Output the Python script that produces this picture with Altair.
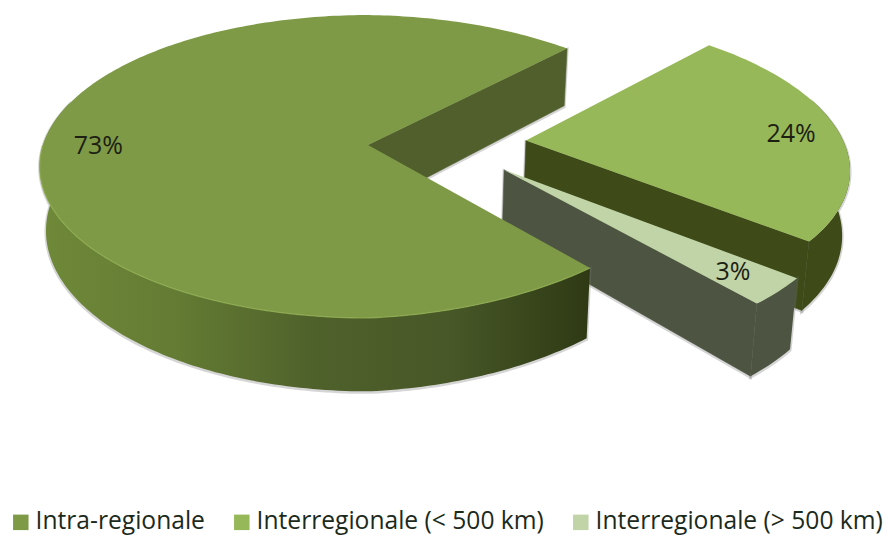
import math
import altair as alt

# Pie content
names = ["Intra-regionale", "Interregionale (< 500 km)", "Interregionale (> 500 km)"]
shares = [73, 24, 3]
labels = ["73%", "24%", "3%"]

# Colours of each slice
top_colors = ["#7f9a47", "#97b858", "#c1d4a7"]
cut_colors = ["#505f2c", "#3e4b19", "#4d5542"]
rim_stops = [
    [("#6f8939", 0), ("#637b33", 0.25), ("#4f612b", 0.5), ("#475727", 0.75), ("#36431a", 0.92), ("#2f3a14", 1)],
    [("#3e4b19", 0), ("#3e4b19", 1)],
    [("#4d5542", 0), ("#4d5542", 1)],
]

# Exploded offset, radius, rim flattening and label placement of each slice on the unit disc
offsets = [(0.0, 0.0), (0.488, -0.030), (0.409, 0.164)]
radii = [1.0, 0.98, 0.99]
flatten = [0.04, 0.0, 0.0]
label_radius = [0.83, 0.83, 0.84]
label_turn = [-1.9, 0.0, 0.0]

# Perspective camera for the disc
X0, Y0, A, B, K = 368.0, 145.0, 325.0, 148.4, 0.142
DEPTH = 63.0
START_ANGLE = 50.5


def top_point(u, v):
    w = 1 - K * v
    return [X0 + A * u / w, Y0 + B * v / w]


def low_point(u, v):
    x, y = top_point(u, v)
    w = 1 - K * v
    return [x + (400 - x) * 0.0175, y + DEPTH / w]


def feature(ring, name=None):
    ring = ring + [ring[0]]
    return {"type": "Feature", "name": name, "properties": {},
            "geometry": {"type": "Polygon", "coordinates": [ring]}}


def rim_angles(a0, a1):
    n = max(2, int(abs(a1 - a0)))
    return [a0 + (a1 - a0) * i / n for i in range(n + 1)]


def disc(i, deg):
    # Point on the rim of slice i at the given angle
    t = math.radians(deg)
    ox, oy = offsets[i]
    c, s = math.cos(t), math.sin(t)
    r = radii[i]
    if c > 0:
        r -= flatten[i] * abs(2 * s * c) * (1.0 if s > 0 else 0.4)
    return ox + r * c, oy + r * s


# Angular span of each slice, running clockwise on screen
spans, cursor = [], START_ANGLE
for s in shares:
    spans.append((cursor, cursor + s * 3.6))
    cursor += s * 3.6

tops, rims, cuts, rim_line = [], [], [], None
for i, (a0, a1) in enumerate(spans):
    ox, oy = offsets[i]
    angles = rim_angles(a0, a1)
    arc = [disc(i, a) for a in angles]
    tops.append(feature([top_point(ox, oy)] + [top_point(u, v) for u, v in arc], names[i]))
    seen = [p for p, a in zip(arc, angles) if math.sin(math.radians(a)) > -0.3]
    rims.append(feature([top_point(u, v) for u, v in seen] + [low_point(u, v) for u, v in reversed(seen)]))
    # The cut face turned towards the viewer
    edge = disc(i, a1)
    cuts.append(feature([top_point(ox, oy), top_point(*edge), low_point(*edge), low_point(ox, oy)]))
    if i == 0:
        front = [top_point(u, v) for (u, v), a in zip(arc, angles) if math.sin(math.radians(a)) > 0]
        rim_line = {"type": "Feature", "properties": {},
                    "geometry": {"type": "LineString", "coordinates": front}}


def shifted(f, dx, dy):
    ring = [[x + dx, y + dy] for x, y in f["geometry"]["coordinates"][0]]
    return {**f, "geometry": {"type": "Polygon", "coordinates": [ring]}}


def gradient(stops):
    return alt.Gradient(gradient="linear", x1=0, x2=1, y1=0, y2=0,
                        stops=[alt.GradientStop(color=c, offset=o) for c, o in stops])


layers = []
for i in [1, 2, 0]:
    layers.append(alt.Chart(alt.Data(values=[shifted(rims[i], 0, 1), shifted(cuts[i], 0, 1)])).mark_geoshape(
        fill="#777777", stroke="#777777", strokeWidth=3, opacity=0.3))
    # A hairline of the same colour closes the seam between the two wall faces
    layers.append(alt.Chart(alt.Data(values=[rims[i]])).mark_geoshape(
        fill=gradient(rim_stops[i]), stroke="transparent", strokeOpacity=0))
    layers.append(alt.Chart(alt.Data(values=[cuts[i]])).mark_geoshape(
        fill=cut_colors[i], stroke=cut_colors[i], strokeWidth=0.6))

top_layer = alt.Chart(alt.Data(values=tops)).mark_geoshape(stroke="transparent", strokeOpacity=0).encode(
    color=alt.Color(
        "name:N",
        scale=alt.Scale(domain=names, range=top_colors),
        legend=alt.Legend(
            title=None, orient="none", legendX=8.5, legendY=510, columns=3, direction="horizontal",
            symbolType="square", symbolSize=240, symbolStrokeWidth=0, symbolOpacity=1,
            labelFont="Open Sans", labelFontSize=24.6, labelColor="#1c2a1c", labelOffset=2.5,
            labelLimit=400, columnPadding=24, padding=0,
        ),
    )
)

# Light bevel along the front edge of the large slice
bevel_layer = alt.Chart(alt.Data(values=[rim_line])).mark_geoshape(
    filled=False, stroke="#8fae50", strokeWidth=1.3, strokeOpacity=0.8
)

# Percent labels sit near the mid angle of their slice
label_rows = []
for i, (a0, a1) in enumerate(spans):
    t = math.radians((a0 + a1) / 2 + label_turn[i])
    ox, oy = offsets[i]
    px, py = top_point(ox + label_radius[i] * math.cos(t), oy + label_radius[i] * math.sin(t))
    label_rows.append({"lon": px, "lat": py, "text": labels[i]})

label_layer = alt.Chart(alt.Data(values=label_rows)).mark_text(
    font="Open Sans", fontSize=25, color="#1c1f12", baseline="middle", align="center", dy=1
).encode(longitude="lon:Q", latitude="lat:Q", text="text:N")

chart = (
    alt.layer(*layers, top_layer, bevel_layer, label_layer)
    .project(type="identity", scale=1, translate=[0, 0])
    .properties(width=892, height=536, padding=0, autosize=alt.AutoSizeParams(type="none"), background="white")
    .configure_view(stroke=None)
)

chart.save("out.html", embed_options={"renderer": "svg", "actions": False})
